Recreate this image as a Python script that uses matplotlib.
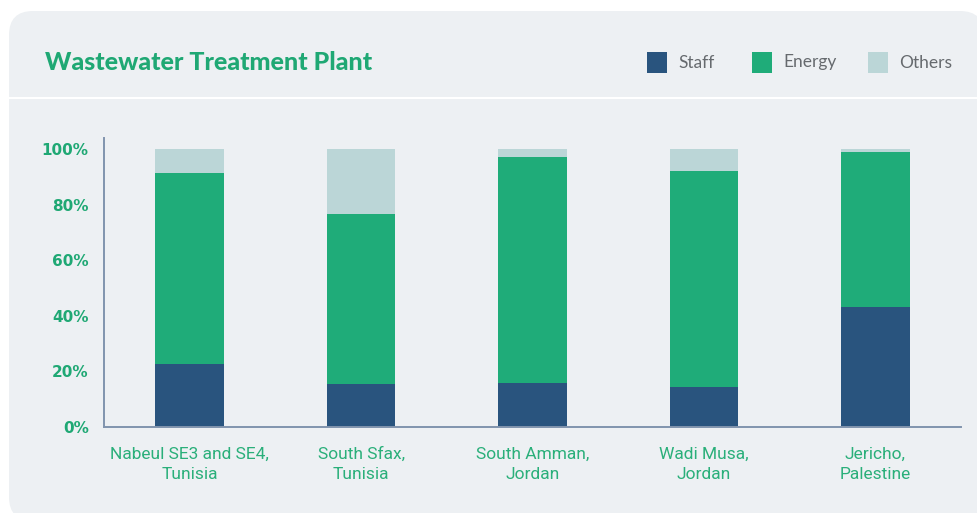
import matplotlib
matplotlib.use("Agg")
import matplotlib.pyplot as plt
from matplotlib import font_manager as fm
from matplotlib.patches import FancyBboxPatch, Rectangle
from matplotlib.transforms import Affine2D

# ---- data ----
categories = ["Nabeul SE3 and SE4,\nTunisia", "South Sfax,\nTunisia",
              "South Amman,\nJordan", "Wadi Musa,\nJordan", "Jericho,\nPalestine"]
series_names = ["Staff", "Energy", "Others"]
staff = [22.7, 15.5, 15.8, 14.3, 43.3]
energy = [68.8, 61.2, 81.2, 77.9, 55.5]
others = [8.5, 23.3, 3.0, 7.8, 1.2]
ytick_values = [0, 20, 40, 60, 80, 100]
ytick_labels = ["0%", "20%", "40%", "60%", "80%", "100%"]
title = "Wastewater Treatment Plant"

# ---- style ----
C_STAFF = "#29547e"
C_ENERGY = "#1fac79"
C_OTHERS = "#bbd6d7"
C_CARD = "#edf0f3"
C_GREEN = "#1fa874"
C_AXIS = "#8194ae"

names = {f.name for f in fm.fontManager.ttflist}
def pick(*cands):
    for c in cands:
        if c in names:
            return c
    return "DejaVu Sans"
F_X = pick("Liberation Sans Narrow", "Roboto")
F_LEG = pick("Lato", "Open Sans")
F_TITLE = pick("Lato", "Open Sans")

W, H, DPI = 978, 513, 100
fig = plt.figure(figsize=(W / DPI, H / DPI), dpi=DPI)
fig.patch.set_facecolor("white")
px = Affine2D().scale(1 / DPI, -1 / DPI).translate(0, H / DPI) + fig.dpi_scale_trans

card = FancyBboxPatch((9, 11), 975, 510, boxstyle="round,pad=0,rounding_size=24",
                      transform=px, facecolor=C_CARD, edgecolor="none", zorder=-5)
fig.patches.append(card)
sep = Rectangle((9, 96.5), 975, 2.5, transform=px, facecolor="white",
                edgecolor="none", zorder=-4)
fig.patches.append(sep)

fig.text(45, 62, title, transform=px, ha="left", va="center", fontsize=18,
         fontweight="black", color=C_GREEN, family=F_TITLE)

leg_x = [647, 752, 868]
leg_cols = [C_STAFF, C_ENERGY, C_OTHERS]
for x, c, n in zip(leg_x, leg_cols, series_names):
    fig.patches.append(Rectangle((x, 52), 20, 21, transform=px, facecolor=c,
                                 edgecolor="none", zorder=2))
    fig.text(x + 31, 62.5, n, transform=px, ha="left", va="center",
             fontsize=12.5, color="#666a6e", family=F_LEG)

ax = fig.add_axes([104 / W, 1 - 427 / H, (961 - 104) / W, (427 - 138) / H])
ax.set_zorder(1)
ax.set_facecolor("none")
x = range(len(categories))
bw = 0.4
ax.bar(x, staff, bw, color=C_STAFF, zorder=2)
ax.bar(x, energy, bw, bottom=staff, color=C_ENERGY, zorder=2)
bottom2 = [s + e for s, e in zip(staff, energy)]
ax.bar(x, others, bw, bottom=bottom2, color=C_OTHERS, zorder=2)

ax.set_xlim(-0.5, 4.5)
ax.set_ylim(0, 104)
for s in ["top", "right"]:
    ax.spines[s].set_visible(False)
for s in ["left", "bottom"]:
    ax.spines[s].set_color(C_AXIS)
    ax.spines[s].set_linewidth(1.4)
ax.set_yticks(ytick_values)
ax.set_yticklabels(ytick_labels, fontsize=11, fontweight="bold", color=C_GREEN,
                   family="DejaVu Sans")
ax.set_xticks(list(x))
ax.set_xticklabels(categories, fontsize=12.5, color="#2aaf7a", family=F_X,
                   linespacing=1.45)
ax.tick_params(axis="y", length=0, pad=11)
ax.tick_params(axis="x", length=0, pad=14)

fig.savefig("out.png", dpi=DPI, facecolor="white")
